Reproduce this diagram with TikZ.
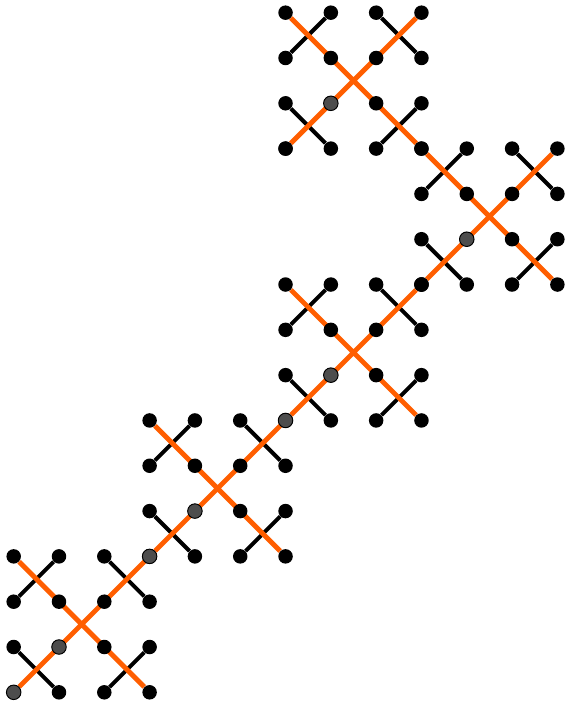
\documentclass[tikz,border=0pt]{standalone}
\usetikzlibrary{backgrounds}
\definecolor{trailorange}{RGB}{255,94,0}
\definecolor{dotgrey}{RGB}{77,77,77}
\tikzset{
  dot/.style={circle, fill=black, inner sep=0pt, minimum size=0.32cm},
  gdot/.style={dot, fill=dotgrey, draw=black, line width=0.6pt},
  link/.style={line width=2.5pt, black},
  trail/.style={line width=3.1pt, trailorange},
}
\begin{document}
\begin{tikzpicture}
  \useasboundingbox (-0.302,-0.28) rectangle (12.153,15.28);
  % five blocks of 4x4 dots, each origin at its lower left corner
  \foreach \k/\ox/\oy/\os in {1/0/0/gdot, 2/3/3/gdot, 3/6/6/gdot, 4/9/9/dot, 5/6/12/dot} {
    \foreach \a in {0,...,3}
      \foreach \b in {0,...,3}
        \node[dot] (n\k-\a\b) at (\ox+\a,\oy+\b) {};
    \node[gdot] (n\k-11) at (\ox+1,\oy+1) {};
    \node[\os] (n\k-00) at (\ox,\oy) {};
    \begin{scope}[on background layer]
      \draw[link] (n\k-02) -- (n\k-13) (n\k-23) -- (n\k-32)
                  (n\k-01) -- (n\k-10) (n\k-20) -- (n\k-31);
      \draw[trail] (n\k-00) -- (n\k-33) (n\k-03) -- (n\k-30);
    \end{scope}
  }
\end{tikzpicture}
\end{document}
